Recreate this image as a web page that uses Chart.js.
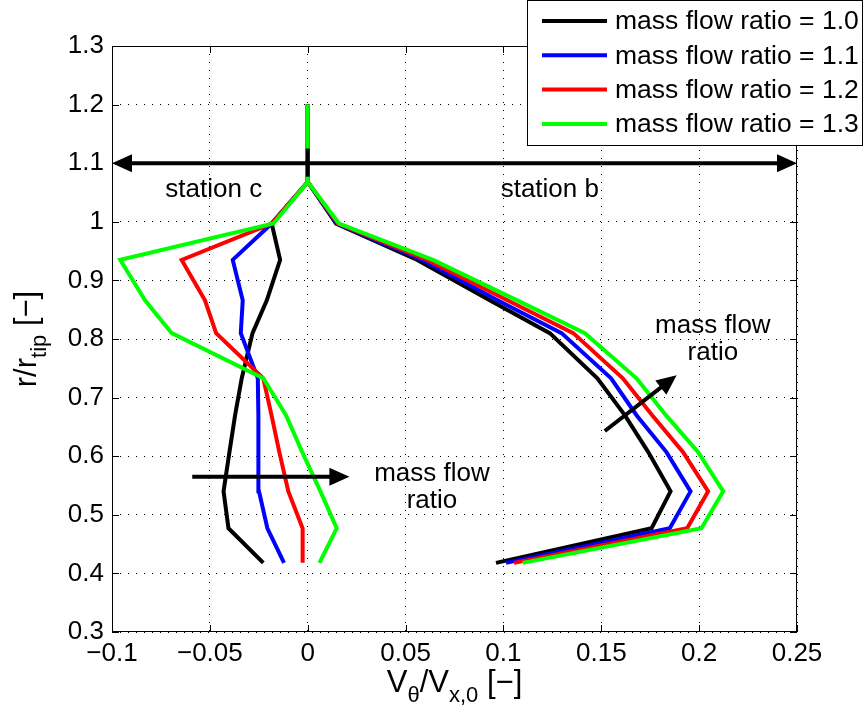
<!DOCTYPE html>
<html>
<head>
<meta charset="utf-8">
<script src="https://cdn.jsdelivr.net/npm/chart.js@4.4.0/dist/chart.umd.min.js"></script>
<style>
html, body { margin: 0; padding: 0; background: #fff; }
#wrap { width: 865px; height: 711px; }
</style>
</head>
<body>
<div id="wrap"><canvas id="chart" width="865" height="711"></canvas></div>
<script>
// radial positions r/r_tip, hub to tip
const radius = [0.418, 0.477, 0.54, 0.607, 0.67, 0.733, 0.81, 0.866, 0.935, 0.997, 1.068];
const casingTop = 1.2;

// swirl V_theta/V_x,0 at station c
const stationC_10 = [-0.0227, -0.0405, -0.0430, -0.0400, -0.0371, -0.0337, -0.0282, -0.0209, -0.0141, -0.0184, 0];
const stationC_11 = [-0.0121, -0.0206, -0.0249, -0.0252, -0.0252, -0.0255, -0.0342, -0.0332, -0.0383, -0.0184, 0];
const stationC_12 = [-0.0026, -0.0026, -0.0099, -0.0145, -0.0185, -0.0227, -0.0468, -0.0525, -0.0644, -0.0184, 0];
const stationC_13 = [0.0060, 0.0148, 0.0065, -0.0028, -0.0111, -0.0227, -0.0695, -0.0831, -0.0958, -0.0175, 0];

// swirl V_theta/V_x,0 at station b
const stationB_10 = [0.0962, 0.1757, 0.1854, 0.1740, 0.1620, 0.1480, 0.1237, 0.0930, 0.0560, 0.0145, 0];
const stationB_11 = [0.1013, 0.1850, 0.1956, 0.1833, 0.1680, 0.1550, 0.1297, 0.0970, 0.0585, 0.0150, 0];
const stationB_12 = [0.1054, 0.1939, 0.2046, 0.1918, 0.1760, 0.1610, 0.1357, 0.1020, 0.0610, 0.0155, 0];
const stationB_13 = [0.1098, 0.2012, 0.2123, 0.1995, 0.1830, 0.1680, 0.1416, 0.1070, 0.0640, 0.0160, 0];

const seriesLabels = ['mass flow ratio = 1.0', 'mass flow ratio = 1.1', 'mass flow ratio = 1.2', 'mass flow ratio = 1.3'];
const seriesColors = ['#000000', '#0000ff', '#ff0000', '#00ff00'];

// annotation arrows [x0, y0, x1, y1, heads at both ends]
const arrows = [
  [-0.1, 1.1, 0.25, 1.1, true],
  [-0.059, 0.565, 0.0213, 0.565, false],
  [0.1518, 0.643, 0.1885, 0.738, false]
];
const notes = [
  { x: -0.048, y: 1.054, lines: ['station c'] },
  { x: 0.1237, y: 1.054, lines: ['station b'] },
  { x: 0.0635, y: 0.547, lines: ['mass flow', 'ratio'] },
  { x: 0.207, y: 0.800, lines: ['mass flow', 'ratio'] }
];

const FONT = '"Liberation Sans", Arial, sans-serif';

// one polyline per ratio: station c up to the tip, up the centre line, then station b back down
function buildPath(c, b) {
  const pts = radius.map((r, i) => ({ x: c[i], y: r }));
  pts.push({ x: 0, y: casingTop });
  for (let i = radius.length - 1; i >= 0; i--) pts.push({ x: b[i], y: radius[i] });
  return pts;
}

const curves = [
  buildPath(stationC_10, stationB_10),
  buildPath(stationC_11, stationB_11),
  buildPath(stationC_12, stationB_12),
  buildPath(stationC_13, stationB_13)
];

const datasets = curves.map((pts, i) => ({
  label: seriesLabels[i],
  data: pts,
  borderColor: seriesColors[i],
  borderWidth: 4,
  pointRadius: 0,
  tension: 0,
  fill: false,
  order: 3 - i   // last ratio on top
}));

function arrowHead(ctx, x0, y0, x1, y1) {
  const a = Math.atan2(y1 - y0, x1 - x0);
  const len = 20, half = 9;
  ctx.beginPath();
  ctx.moveTo(x1, y1);
  ctx.lineTo(x1 - len * Math.cos(a) + half * Math.sin(a), y1 - len * Math.sin(a) - half * Math.cos(a));
  ctx.lineTo(x1 - len * Math.cos(a) - half * Math.sin(a), y1 - len * Math.sin(a) + half * Math.cos(a));
  ctx.closePath();
  ctx.fill();
}

// text with subscript pieces, centred on (0,0) of the current transform
function drawMixed(ctx, parts, size, subSize, subDrop) {
  let total = 0;
  parts.forEach(p => {
    ctx.font = (p.sub ? subSize : size) + 'px ' + FONT;
    p.w = ctx.measureText(p.t).width;
    total += p.w;
  });
  let x = -total / 2;
  ctx.textAlign = 'left';
  ctx.textBaseline = 'alphabetic';
  parts.forEach(p => {
    ctx.font = (p.sub ? subSize : size) + 'px ' + FONT;
    ctx.fillText(p.t, x, p.sub ? subDrop : 0);
    x += p.w;
  });
}

const overlay = {
  id: 'overlay',
  afterDatasetsDraw(chart) {
    const ctx = chart.ctx;
    const xs = chart.scales.x, ys = chart.scales.y;
    const area = chart.chartArea;
    ctx.save();
    ctx.fillStyle = '#000';
    ctx.strokeStyle = '#000';

    // station divider on the centre line
    ctx.lineWidth = 4;
    ctx.beginPath();
    ctx.moveTo(xs.getPixelForValue(0), ys.getPixelForValue(1.077));
    ctx.lineTo(xs.getPixelForValue(0), ys.getPixelForValue(1.125));
    ctx.stroke();

    arrows.forEach(([ax0, ay0, ax1, ay1, both]) => {
      const x0 = xs.getPixelForValue(ax0), y0 = ys.getPixelForValue(ay0);
      const x1 = xs.getPixelForValue(ax1), y1 = ys.getPixelForValue(ay1);
      const a = Math.atan2(y1 - y0, x1 - x0);
      ctx.lineWidth = 4;
      ctx.beginPath();
      ctx.moveTo(both ? x0 + 12 * Math.cos(a) : x0, both ? y0 + 12 * Math.sin(a) : y0);
      ctx.lineTo(x1 - 12 * Math.cos(a), y1 - 12 * Math.sin(a));
      ctx.stroke();
      arrowHead(ctx, x0, y0, x1, y1);
      if (both) arrowHead(ctx, x1, y1, x0, y0);
    });

    ctx.font = '26px ' + FONT;
    ctx.textAlign = 'center';
    ctx.textBaseline = 'middle';
    notes.forEach(n => {
      const cx = xs.getPixelForValue(n.x), cy = ys.getPixelForValue(n.y);
      const lh = 27;
      n.lines.forEach((t, k) => {
        ctx.fillText(t, cx, cy + (k - (n.lines.length - 1) / 2) * lh);
      });
    });

    // axes box with inward ticks
    ctx.lineWidth = 1;
    ctx.strokeRect(area.left + 0.5, area.top + 0.5, area.right - area.left - 1, area.bottom - area.top - 1);
    ctx.beginPath();
    xs.ticks.forEach(t => {
      const px = Math.round(xs.getPixelForValue(t.value)) + 0.5;
      ctx.moveTo(px, area.bottom); ctx.lineTo(px, area.bottom - 7);
      ctx.moveTo(px, area.top); ctx.lineTo(px, area.top + 7);
    });
    ys.ticks.forEach(t => {
      const py = Math.round(ys.getPixelForValue(t.value)) + 0.5;
      ctx.moveTo(area.left, py); ctx.lineTo(area.left + 7, py);
      ctx.moveTo(area.right, py); ctx.lineTo(area.right - 7, py);
    });
    ctx.stroke();
    ctx.restore();
  },
  afterDraw(chart) {
    const ctx = chart.ctx;
    const area = chart.chartArea;
    ctx.save();
    ctx.fillStyle = '#000';

    // legend box
    const bx = 527.5, by = 0.5, bw = 335, bh = 145;
    ctx.fillStyle = '#fff';
    ctx.fillRect(bx, by, bw, bh);
    ctx.strokeStyle = '#000';
    ctx.lineWidth = 1;
    ctx.strokeRect(bx, by, bw, bh);
    chart.data.datasets.forEach((ds, i) => {
      const y = 21 + i * 34.3;
      ctx.strokeStyle = ds.borderColor;
      ctx.lineWidth = 4;
      ctx.beginPath();
      ctx.moveTo(542, y);
      ctx.lineTo(607, y);
      ctx.stroke();
      ctx.fillStyle = '#000';
      ctx.font = '26.5px ' + FONT;
      ctx.textAlign = 'left';
      ctx.textBaseline = 'middle';
      ctx.fillText(ds.label, 615, y + 1);
    });

    // axis titles
    ctx.fillStyle = '#000';
    ctx.save();
    ctx.translate((area.left + area.right) / 2, 692);
    drawMixed(ctx, [
      { t: 'V' }, { t: 'θ', sub: true }, { t: '/V' }, { t: 'x,0', sub: true }, { t: ' [−]' }
    ], 31, 22, 10);
    ctx.restore();

    ctx.save();
    ctx.translate(36, (area.top + area.bottom) / 2);
    ctx.rotate(-Math.PI / 2);
    drawMixed(ctx, [
      { t: 'r/r' }, { t: 'tip', sub: true }, { t: ' [−]' }
    ], 31, 22, 10);
    ctx.restore();
    ctx.restore();
  }
};

Chart.defaults.font.family = FONT;
Chart.defaults.color = '#000';

new Chart(document.getElementById('chart'), {
  type: 'line',
  data: { datasets },
  options: {
    responsive: false,
    animation: false,
    events: [],
    layout: { padding: { top: 46, right: 68, left: 0, bottom: 0 } },
    plugins: { legend: { display: false }, tooltip: { enabled: false } },
    scales: {
      x: {
        type: 'linear',
        min: -0.1,
        max: 0.25,
        ticks: {
          stepSize: 0.05,
          font: { size: 26 },
          padding: 6,
          maxRotation: 0,
          callback: v => String(Math.round(v * 100) / 100).replace('-', '−')
        },
        grid: { color: '#000', lineWidth: 1, drawTicks: false },
        border: { display: false, dash: [1, 7] },
        afterFit: s => { s.height = 79; }
      },
      y: {
        type: 'linear',
        min: 0.3,
        max: 1.3,
        ticks: {
          stepSize: 0.1,
          font: { size: 26 },
          padding: 8,
          callback: v => String(Math.round(v * 10) / 10)
        },
        grid: { color: '#000', lineWidth: 1, drawTicks: false },
        border: { display: false, dash: [1, 7] },
        afterFit: s => { s.width = 112; }
      }
    }
  },
  plugins: [overlay]
});
</script>
</body>
</html>
